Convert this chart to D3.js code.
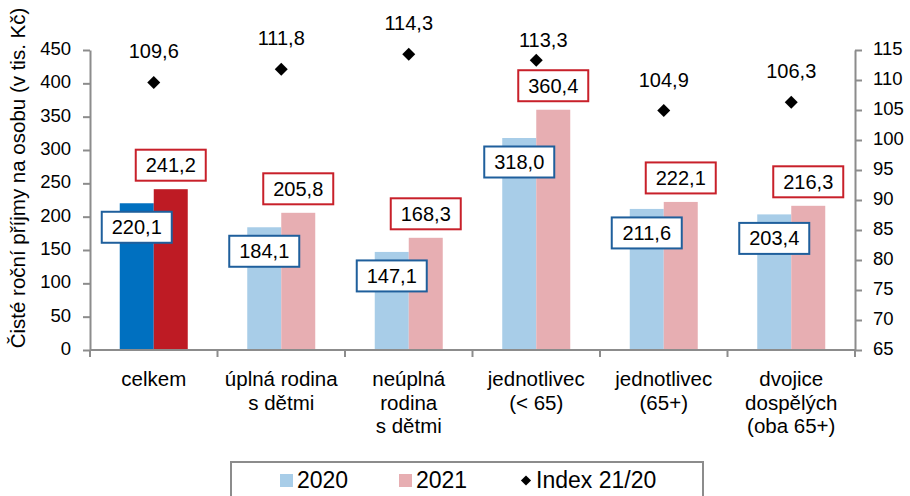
<!DOCTYPE html>
<html>
<head>
<meta charset="utf-8">
<script src="https://cdn.jsdelivr.net/npm/d3@7"></script>
<style>
    body { margin: 0; background: #fff; }
    svg { display: block; font-family: "Liberation Sans", Arial, sans-serif; }
    .axes path, .axes line { stroke: #8c8c8c; stroke-width: 2; }
    .axes text { font-size: 18.5px; fill: #000; }
</style>
</head>
<body>
<script>
(function () {

    'use strict'

    // chart data
    const categories = ['celkem', 'úplná rodina s dětmi', 'neúplná rodina s dětmi', 'jednotlivec (< 65)', 'jednotlivec (65+)', 'dvojice dospělých (oba 65+)']
    const categoryLines = [
        ['celkem'],
        ['úplná rodina', 's dětmi'],
        ['neúplná', 'rodina', 's dětmi'],
        ['jednotlivec', '(< 65)'],
        ['jednotlivec', '(65+)'],
        ['dvojice', 'dospělých', '(oba 65+)']
    ]
    const values2020 = [220.1, 184.1, 147.1, 318.0, 211.6, 203.4]
    const values2021 = [241.2, 205.8, 168.3, 360.4, 222.1, 216.3]
    const index2120 = [109.6, 111.8, 114.3, 113.3, 104.9, 106.3]
    const leftTicks = [0, 50, 100, 150, 200, 250, 300, 350, 400, 450]
    const rightTicks = [65, 70, 75, 80, 85, 90, 95, 100, 105, 110, 115]
    const seriesNames = ['2020', '2021', 'Index 21/20']

    const width = 910
        , height = 496
        , plot = { left: 90, right: 855, top: 50, bottom: 350 }

    // first group is drawn in strong colours, the rest in light ones
    const strong = { '2020': '#0070c0', '2021': '#be1b24' }
    const light = { '2020': '#a8cde8', '2021': '#e7aeb2' }
    const boxStroke = { '2020': '#1f5f9c', '2021': '#c8202a' }

    // manual nudge of the index labels (dx, dy)
    const indexNudge = [[0, 0], [0, 0], [0, 0], [7, 10.5], [0, 0], [0, 0]]

    const fmt = d3.formatLocale({ decimal: ',', thousands: ' ', grouping: [3], currency: ['', ' Kč'] }).format('.1f')

    const svg = d3.select('body')
        .append('svg')
        .attr('width', width)
        .attr('height', height)

    const x0 = d3.scaleBand()
        .domain(categories)
        .range([plot.left, plot.right])

    const x1 = d3.scaleBand()
        .domain(['2020', '2021'])
        .range([x0.bandwidth() / 2 - 34, x0.bandwidth() / 2 + 34])

    const yLeft = d3.scaleLinear()
        .domain([0, 450])
        .range([plot.bottom, plot.top])

    const yRight = d3.scaleLinear()
        .domain([65, 115])
        .range([plot.bottom, plot.top])

    // bars
    const rows = categories.map((c, i) => ({ cat: c, i: i, '2020': values2020[i], '2021': values2021[i] }))

    const groups = svg.selectAll('.group')
        .data(rows)
        .enter()
        .append('g')
        .attr('class', 'group')
        .attr('transform', d => 'translate(' + x0(d.cat) + ',0)')

    groups.selectAll('rect')
        .data(d => ['2020', '2021'].map(k => ({ key: k, value: d[k], i: d.i })))
        .enter()
        .append('rect')
        .attr('x', d => x1(d.key))
        .attr('width', x1.bandwidth())
        .attr('y', d => yLeft(d.value))
        .attr('height', d => yLeft(0) - yLeft(d.value))
        .attr('fill', d => d.i === 0 ? strong[d.key] : light[d.key])

    // axes
    svg.append('g')
        .attr('class', 'axes')
        .attr('transform', 'translate(' + plot.left + ',0)')
        .call(d3.axisLeft(yLeft).tickValues(leftTicks).tickSize(7).tickSizeOuter(0).tickPadding(12))
        .call(g => g.selectAll('text').attr('dy', '0.24em'))

    svg.append('g')
        .attr('class', 'axes')
        .attr('transform', 'translate(' + plot.right + ',0)')
        .call(d3.axisRight(yRight).tickValues(rightTicks).tickSize(7).tickSizeOuter(0).tickPadding(11))
        .call(g => g.selectAll('text').attr('dy', '0.24em'))

    // x axis with ticks between the categories
    const xAxis = svg.append('g').attr('class', 'axes')
    xAxis.append('line')
        .attr('x1', plot.left).attr('x2', plot.right)
        .attr('y1', plot.bottom).attr('y2', plot.bottom)
    xAxis.selectAll('.xtick')
        .data(categories.map(c => x0(c)).concat([plot.right]))
        .enter()
        .append('line')
        .attr('class', 'xtick')
        .attr('x1', d => d).attr('x2', d => d)
        .attr('y1', plot.bottom).attr('y2', plot.bottom + 7)

    // category labels
    svg.selectAll('.catlabel')
        .data(categories)
        .enter()
        .append('text')
        .attr('class', 'catlabel')
        .attr('text-anchor', 'middle')
        .attr('font-size', '20.5px')
        .attr('y', 386)
        .each(function (c, i) {
            d3.select(this).selectAll('tspan')
                .data(categoryLines[i])
                .enter()
                .append('tspan')
                .attr('x', x0(c) + x0.bandwidth() / 2)
                .attr('dy', (d, j) => j === 0 ? 0 : 23.5)
                .text(d => d)
        })

    // value labels in boxes
    const labels = []
    rows.forEach(r => {
        labels.push({ key: '2020', x: x0(r.cat) + x1('2020') + x1.bandwidth() / 2, y: yLeft(r['2020']) + 24, value: r['2020'] })
        labels.push({ key: '2021', x: x0(r.cat) + x1('2021') + x1.bandwidth() / 2, y: yLeft(r['2021']) - 24, value: r['2021'] })
    })

    const lab = svg.selectAll('.vlabel')
        .data(labels)
        .enter()
        .append('g')
        .attr('class', 'vlabel')
        .attr('transform', d => 'translate(' + d.x + ',' + d.y + ')')

    lab.append('rect')
        .attr('x', -35).attr('y', -15.5)
        .attr('width', 70).attr('height', 31)
        .attr('fill', '#fff')
        .attr('stroke', d => boxStroke[d.key])
        .attr('stroke-width', 2)

    lab.append('text')
        .attr('text-anchor', 'middle')
        .attr('y', 7)
        .attr('font-size', '20px')
        .text(d => fmt(d.value))

    // index markers
    const diamond = d3.symbol().type(d3.symbolSquare).size(84)

    svg.selectAll('.dot')
        .data(index2120)
        .enter()
        .append('path')
        .attr('class', 'dot')
        .attr('d', diamond)
        .attr('fill', '#000')
        .attr('transform', (d, i) => 'translate(' + (x0(categories[i]) + x0.bandwidth() / 2) + ',' + yRight(d) + ') rotate(45)')

    svg.selectAll('.ilabel')
        .data(index2120)
        .enter()
        .append('text')
        .attr('class', 'ilabel')
        .attr('text-anchor', 'middle')
        .attr('font-size', '20px')
        .attr('x', (d, i) => x0(categories[i]) + x0.bandwidth() / 2 + indexNudge[i][0])
        .attr('y', (d, i) => yRight(d) - 24 + indexNudge[i][1])
        .text(d => fmt(d))

    // y axis title
    svg.append('text')
        .attr('transform', 'translate(25,178) rotate(-90)')
        .attr('text-anchor', 'middle')
        .attr('font-size', '20.5px')
        .text('Čisté roční příjmy na osobu (v tis. Kč)')

    // legend
    const legend = svg.append('g')
    legend.append('rect')
        .attr('x', 231).attr('y', 462)
        .attr('width', 472).attr('height', 44)
        .attr('fill', '#fff')
        .attr('stroke', '#8c8c8c')
        .attr('stroke-width', 2)

    const legendX = [280, 399, 519]
    seriesNames.forEach((s, i) => {
        if (i < 2) {
            legend.append('rect')
                .attr('x', legendX[i]).attr('y', 474)
                .attr('width', 13).attr('height', 13)
                .attr('fill', light[s])
        } else {
            legend.append('path')
                .attr('d', d3.symbol().type(d3.symbolSquare).size(52))
                .attr('transform', 'translate(' + (legendX[i] + 7) + ',480.5) rotate(45)')
                .attr('fill', '#000')
        }
        legend.append('text')
            .attr('x', legendX[i] + 17)
            .attr('y', 487.5)
            .attr('font-size', '23px')
            .text(s)
    })
})()
</script>
</body>
</html>
